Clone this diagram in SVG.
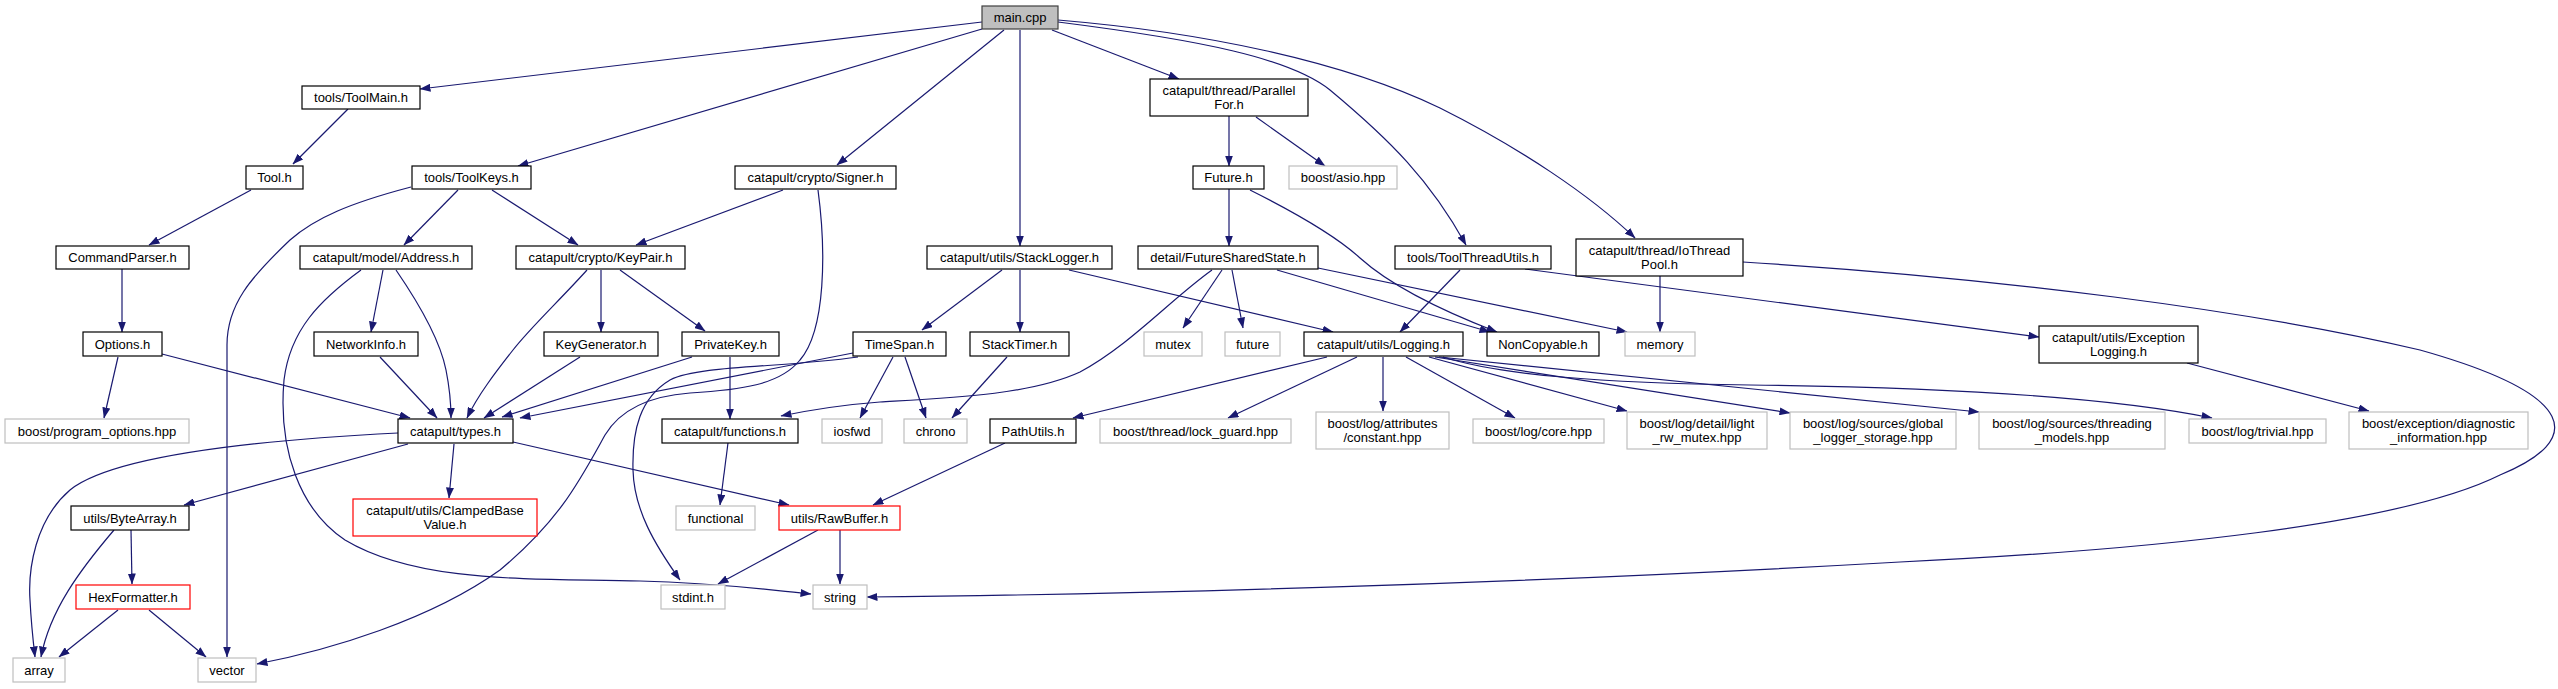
<svg xmlns="http://www.w3.org/2000/svg" width="2558" height="689" viewBox="0 0 2558 689">
<defs>
<style>
.n rect{fill:#fff;stroke:#000;stroke-width:1.2}
.n.g rect{stroke:#bfbfbf}
.n.r rect{stroke:#ff0000}
.n.m rect{fill:#bfbfbf;stroke:#404040}
text{font-family:"Liberation Sans",Arial,Helvetica,sans-serif;font-size:13px;fill:#000;text-anchor:middle}
#edges path{fill:none;stroke:#191970;stroke-width:1.2;marker-end:url(#ah)}
</style>
<marker id="ah" markerUnits="userSpaceOnUse" markerWidth="11" markerHeight="8" refX="10.5" refY="4" orient="auto">
<path d="M0,0 L11,4 L0,8 z" fill="#191970" stroke="none"/>
</marker>
</defs>
<rect width="2558" height="689" fill="#fff"/>
<g id="edges">
<path d="M982,22 L420,89"/>
<path d="M982,29 L518,166"/>
<path d="M1004,30 L837,165"/>
<path d="M1020,30 L1020,246"/>
<path d="M1052,30 L1179,79"/>
<path d="M1058,22 C1200,40 1290,58 1330,90 C1390,140 1430,180 1466,245"/>
<path d="M1058,20 C1200,32 1340,60 1440,108 C1520,148 1590,195 1635,238"/>
<path d="M1229,116 L1229,166"/>
<path d="M1256,117 L1325,166"/>
<path d="M1229,189 L1229,246"/>
<path d="M1250,190 C1290,210 1335,235 1360,258 C1390,285 1440,310 1497,332"/>
<path d="M1212,270 C1170,300 1130,345 1080,372 C1030,395 950,398 880,402 C840,405 810,410 781,416"/>
<path d="M1222,270 L1183,328"/>
<path d="M1232,270 L1243,328"/>
<path d="M1277,270 L1490,332"/>
<path d="M1318,268 L1627,332"/>
<path d="M1002,270 L922,330"/>
<path d="M1020,270 L1020,332"/>
<path d="M1069,270 L1333,332"/>
<path d="M1460,270 L1400,332"/>
<path d="M1525,269 L2039,337"/>
<path d="M1660,276 L1660,332"/>
<path d="M1743,262 C2000,278 2250,310 2420,350 C2580,395 2585,440 2500,475 C2400,525 2150,550 1900,562 C1500,585 1100,595 867,597"/>
<path d="M348,109 L293,164"/>
<path d="M251,190 L149,245"/>
<path d="M122,269 L122,332"/>
<path d="M411,187 C350,203 315,218 290,240 C250,278 227,305 227,345 L227,657"/>
<path d="M458,190 L404,245"/>
<path d="M492,190 L578,245"/>
<path d="M783,190 L636,245"/>
<path d="M818,190 C826,250 826,330 800,360 C780,385 740,390 690,393 C650,396 620,410 605,435 C580,480 560,520 500,570 C430,620 330,650 257,664"/>
<path d="M858,357 C780,368 700,365 670,380 C640,398 632,430 633,470 C634,510 655,545 680,580"/>
<path d="M853,353 L520,418"/>
<path d="M692,357 L502,417"/>
<path d="M730,357 L730,419"/>
<path d="M893,357 L860,418"/>
<path d="M905,357 L926,418"/>
<path d="M1007,357 L952,418"/>
<path d="M383,270 L371,332"/>
<path d="M396,270 C420,305 440,340 446,370 C450,390 451,405 451,418"/>
<path d="M361,270 C320,300 290,330 284,380 C278,450 300,510 345,540 C420,585 540,578 640,581 C720,583 770,590 811,594"/>
<path d="M587,270 C560,300 530,328 513,350 C495,373 478,395 467,418"/>
<path d="M601,270 L601,332"/>
<path d="M620,270 L705,331"/>
<path d="M380,357 L437,418"/>
<path d="M580,357 L484,418"/>
<path d="M118,357 L104,418"/>
<path d="M162,354 L410,418"/>
<path d="M398,433 C300,438 120,450 70,490 C35,520 28,570 30,600 C31,620 33,640 35,657"/>
<path d="M408,444 L184,505"/>
<path d="M454,444 L449,498"/>
<path d="M513,442 L789,505"/>
<path d="M114,530 C80,570 50,610 41,657"/>
<path d="M131,530 L132,584"/>
<path d="M118,610 L59,657"/>
<path d="M149,610 L206,657"/>
<path d="M728,443 L720,505"/>
<path d="M1005,443 L873,505"/>
<path d="M818,530 L718,584"/>
<path d="M840,530 L840,584"/>
<path d="M1327,357 L1073,418"/>
<path d="M1357,357 L1228,418"/>
<path d="M1383,357 L1383,411"/>
<path d="M1406,357 L1515,418"/>
<path d="M1429,357 L1627,411"/>
<path d="M1435,357 L1790,413"/>
<path d="M1439,357 L1979,412"/>
<path d="M1443,357 C1500,375 1600,383 1750,385 C1920,387 2100,395 2212,418"/>
<path d="M2187,363 L2369,411"/>
</g>
<g id="n-main" class="n m"><rect x="982" y="6" width="76" height="23"/><text x="1020" y="22">main.cpp</text></g>
<g id="n-toolmain" class="n"><rect x="302" y="86" width="118" height="23"/><text x="361" y="102">tools/ToolMain.h</text></g>
<g id="n-tool" class="n"><rect x="246" y="166" width="57" height="23"/><text x="274.5" y="182">Tool.h</text></g>
<g id="n-toolkeys" class="n"><rect x="412" y="166" width="119" height="23"/><text x="471.5" y="182">tools/ToolKeys.h</text></g>
<g id="n-signer" class="n"><rect x="735" y="166" width="161" height="23"/><text x="815.5" y="182">catapult/crypto/Signer.h</text></g>
<g id="n-parallelfor" class="n"><rect x="1150" y="79" width="158" height="37"/><text x="1229" y="95">catapult/thread/Parallel</text><text x="1229" y="109">For.h</text></g>
<g id="n-future" class="n"><rect x="1193" y="166" width="71" height="23"/><text x="1228.5" y="182">Future.h</text></g>
<g id="n-asio" class="n g"><rect x="1289" y="166" width="108" height="23"/><text x="1343" y="182">boost/asio.hpp</text></g>
<g id="n-cmdparser" class="n"><rect x="56" y="246" width="133" height="23"/><text x="122.5" y="262">CommandParser.h</text></g>
<g id="n-address" class="n"><rect x="300" y="246" width="172" height="23"/><text x="386" y="262">catapult/model/Address.h</text></g>
<g id="n-keypair" class="n"><rect x="516" y="246" width="169" height="23"/><text x="600.5" y="262">catapult/crypto/KeyPair.h</text></g>
<g id="n-stacklogger" class="n"><rect x="927" y="246" width="185" height="23"/><text x="1019.5" y="262">catapult/utils/StackLogger.h</text></g>
<g id="n-fss" class="n"><rect x="1138" y="246" width="180" height="23"/><text x="1228" y="262">detail/FutureSharedState.h</text></g>
<g id="n-toolthread" class="n"><rect x="1395" y="246" width="156" height="23"/><text x="1473" y="262">tools/ToolThreadUtils.h</text></g>
<g id="n-iothread" class="n"><rect x="1576" y="239" width="167" height="37"/><text x="1659.5" y="255">catapult/thread/IoThread</text><text x="1659.5" y="269">Pool.h</text></g>
<g id="n-options" class="n"><rect x="83" y="332" width="79" height="24"/><text x="122.5" y="348.5">Options.h</text></g>
<g id="n-networkinfo" class="n"><rect x="314" y="332" width="104" height="24"/><text x="366" y="348.5">NetworkInfo.h</text></g>
<g id="n-keygen" class="n"><rect x="544" y="332" width="114" height="24"/><text x="601" y="348.5">KeyGenerator.h</text></g>
<g id="n-privkey" class="n"><rect x="682" y="332" width="97" height="24"/><text x="730.5" y="348.5">PrivateKey.h</text></g>
<g id="n-timespan" class="n"><rect x="853" y="332" width="93" height="24"/><text x="899.5" y="348.5">TimeSpan.h</text></g>
<g id="n-stacktimer" class="n"><rect x="970" y="332" width="99" height="24"/><text x="1019.5" y="348.5">StackTimer.h</text></g>
<g id="n-mutex" class="n g"><rect x="1144" y="332" width="58" height="24"/><text x="1173" y="348.5">mutex</text></g>
<g id="n-futurestd" class="n g"><rect x="1225" y="332" width="55" height="24"/><text x="1252.5" y="348.5">future</text></g>
<g id="n-logging" class="n"><rect x="1304" y="332" width="159" height="24"/><text x="1383.5" y="348.5">catapult/utils/Logging.h</text></g>
<g id="n-noncopyable" class="n"><rect x="1487" y="332" width="112" height="24"/><text x="1543" y="348.5">NonCopyable.h</text></g>
<g id="n-memory" class="n g"><rect x="1625" y="332" width="70" height="24"/><text x="1660" y="348.5">memory</text></g>
<g id="n-exclog" class="n"><rect x="2039" y="326" width="159" height="37"/><text x="2118.5" y="342">catapult/utils/Exception</text><text x="2118.5" y="356">Logging.h</text></g>
<g id="n-progopts" class="n g"><rect x="5" y="419" width="184" height="24"/><text x="97" y="435.5">boost/program_options.hpp</text></g>
<g id="n-types" class="n"><rect x="398" y="419" width="115" height="24"/><text x="455.5" y="435.5">catapult/types.h</text></g>
<g id="n-functions" class="n"><rect x="662" y="419" width="136" height="24"/><text x="730" y="435.5">catapult/functions.h</text></g>
<g id="n-iosfwd" class="n g"><rect x="822" y="419" width="60" height="24"/><text x="852" y="435.5">iosfwd</text></g>
<g id="n-chrono" class="n g"><rect x="904" y="419" width="63" height="24"/><text x="935.5" y="435.5">chrono</text></g>
<g id="n-pathutils" class="n"><rect x="990" y="419" width="86" height="24"/><text x="1033" y="435.5">PathUtils.h</text></g>
<g id="n-lockguard" class="n g"><rect x="1100" y="419" width="191" height="24"/><text x="1195.5" y="435.5">boost/thread/lock_guard.hpp</text></g>
<g id="n-constant" class="n g"><rect x="1316" y="412" width="133" height="37"/><text x="1382.5" y="428">boost/log/attributes</text><text x="1382.5" y="442">/constant.hpp</text></g>
<g id="n-core" class="n g"><rect x="1473" y="419" width="131" height="24"/><text x="1538.5" y="435.5">boost/log/core.hpp</text></g>
<g id="n-lightrw" class="n g"><rect x="1627" y="412" width="140" height="37"/><text x="1697" y="428">boost/log/detail/light</text><text x="1697" y="442">_rw_mutex.hpp</text></g>
<g id="n-globallog" class="n g"><rect x="1790" y="412" width="166" height="37"/><text x="1873" y="428">boost/log/sources/global</text><text x="1873" y="442">_logger_storage.hpp</text></g>
<g id="n-threading" class="n g"><rect x="1979" y="412" width="186" height="37"/><text x="2072" y="428">boost/log/sources/threading</text><text x="2072" y="442">_models.hpp</text></g>
<g id="n-trivial" class="n g"><rect x="2189" y="419" width="137" height="24"/><text x="2257.5" y="435.5">boost/log/trivial.hpp</text></g>
<g id="n-diag" class="n g"><rect x="2349" y="412" width="179" height="37"/><text x="2438.5" y="428">boost/exception/diagnostic</text><text x="2438.5" y="442">_information.hpp</text></g>
<g id="n-bytearray" class="n"><rect x="71" y="506" width="118" height="24"/><text x="130" y="522.5">utils/ByteArray.h</text></g>
<g id="n-clamped" class="n r"><rect x="353" y="499" width="184" height="37"/><text x="445" y="515">catapult/utils/ClampedBase</text><text x="445" y="529">Value.h</text></g>
<g id="n-functional" class="n g"><rect x="676" y="506" width="79" height="24"/><text x="715.5" y="522.5">functional</text></g>
<g id="n-rawbuffer" class="n r"><rect x="779" y="506" width="121" height="24"/><text x="839.5" y="522.5">utils/RawBuffer.h</text></g>
<g id="n-hexfmt" class="n r"><rect x="76" y="585" width="114" height="24"/><text x="133" y="601.5">HexFormatter.h</text></g>
<g id="n-stdint" class="n g"><rect x="661" y="585" width="64" height="24"/><text x="693" y="601.5">stdint.h</text></g>
<g id="n-string" class="n g"><rect x="813" y="585" width="54" height="24"/><text x="840" y="601.5">string</text></g>
<g id="n-array" class="n g"><rect x="13" y="658" width="52" height="24"/><text x="39" y="674.5">array</text></g>
<g id="n-vector" class="n g"><rect x="198" y="658" width="58" height="24"/><text x="227" y="674.5">vector</text></g>
</svg>
